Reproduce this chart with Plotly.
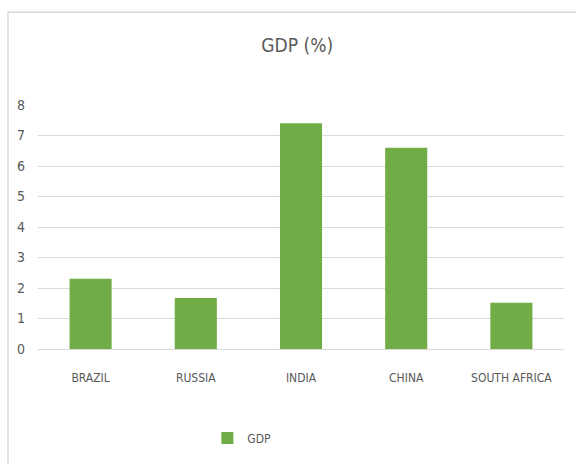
import plotly.graph_objects as go

categories = ["BRAZIL", "RUSSIA", "INDIA", "CHINA", "SOUTH AFRICA"]
gdp_values = [2.3, 1.67, 7.4, 6.6, 1.52]
y_ticks = [0, 1, 2, 3, 4, 5, 6, 7, 8]

FONT = "DejaVu Sans Condensed, Liberation Sans Narrow, Roboto, sans-serif"
GRAY = "#595959"

fig = go.Figure()
fig.add_trace(go.Bar(
    x=categories, y=gdp_values, name="GDP",
    marker=dict(color="#70AD47", line=dict(width=0)),
    showlegend=True,
))

fig.update_layout(
    width=576, height=464,
    paper_bgcolor="white", plot_bgcolor="white",
    margin=dict(l=38, r=12, t=105, b=112),
    bargap=0.6,
    title=dict(text="GDP (%)", x=0.516, xanchor="center", y=0.903, yanchor="middle",
               font=dict(family=FONT, size=19, color=GRAY)),
    font=dict(family=FONT, size=12, color=GRAY),
    xaxis=dict(showgrid=False, showline=False, ticks="", ticklabelstandoff=20,
               tickfont=dict(size=12, color=GRAY)),
    yaxis=dict(range=[0, 8], tickvals=y_ticks, showgrid=True, gridcolor="#D9D9D9", gridwidth=1,
               zeroline=True, zerolinecolor="#D9D9D9", zerolinewidth=1,
               showline=False, ticks="", ticklabelstandoff=12, tickfont=dict(size=14, color=GRAY)),
    legend=dict(orientation="h", x=0.322, xanchor="left", y=-0.365, yanchor="middle",
                font=dict(size=12, color=GRAY), itemwidth=30),
    shapes=[dict(type="rect", xref="paper", yref="paper",
                 x0=-30/526, x1=1.05, y0=-0.6, y1=1.38,
                 line=dict(color="#D9D9D9", width=1.5), fillcolor="rgba(0,0,0,0)", layer="below")],
)

fig.write_html("out.html")
